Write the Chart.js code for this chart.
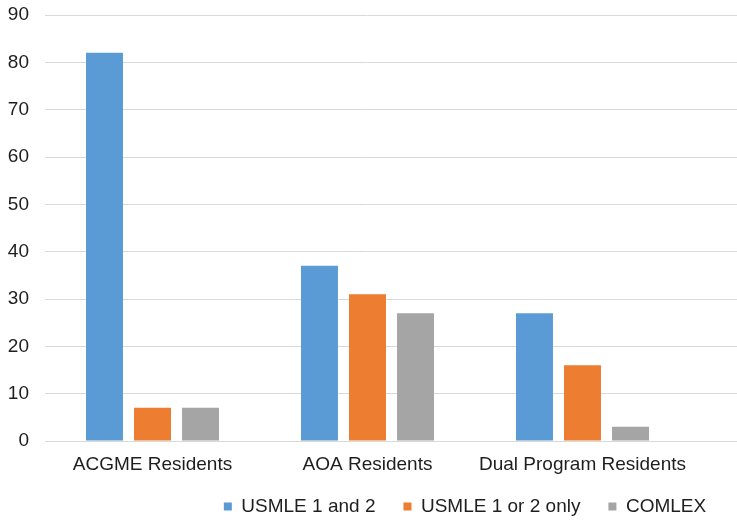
<!DOCTYPE html>
<html>
<head>
<meta charset="utf-8">
<script src="https://cdn.jsdelivr.net/npm/chart.js@4/dist/chart.umd.min.js"></script>
<style>
  html, body { margin: 0; padding: 0; background: #ffffff; }
  #wrap { width: 737px; height: 524px; position: relative; }
</style>
</head>
<body>
<div id="wrap"><canvas id="c" width="737" height="524"></canvas></div>
<script>
const categories = ["ACGME Residents", "AOA Residents", "Dual Program Residents"];
const seriesNames = ["USMLE 1 and 2", "USMLE 1 or 2 only", "COMLEX"];
const usmle12 = [82, 37, 27];
const usmle1or2 = [7, 31, 16];
const comlex = [7, 27, 3];
const yTicks = [0, 10, 20, 30, 40, 50, 60, 70, 80, 90];

const colors = ["#5B9BD5", "#ED7D31", "#A5A5A5"];
const gridColor = "#D9D9D9";
const textColor = "#1e1e1e";
const fontFamily = "'Liberation Sans', Arial, sans-serif";

// extend horizontal gridlines to the right edge of the canvas
const extendGrid = {
  id: 'extendGrid',
  beforeDatasetsDraw(chart) {
    const ctx = chart.ctx;
    const ys = chart.scales.y;
    ctx.save();
    ctx.strokeStyle = gridColor;
    ctx.lineWidth = 1;
    ys.ticks.forEach(t => {
      const p = ys.getPixelForValue(t.value);
      const y = Math.round(p - 0.5) + 0.5;
      ctx.beginPath();
      ctx.moveTo(chart.chartArea.right - 1, y);
      ctx.lineTo(chart.width, y);
      ctx.stroke();
    });
    ctx.restore();
  }
};

// move legend to where it sits in the reference
const shiftLegend = {
  id: 'shiftLegend',
  afterLayout(chart) {
    const dx = 120, dy = -16;
    const lg = chart.legend;
    if (lg) {
      lg.left += dx; lg.right += dx;
      lg.top += dy; lg.bottom += dy;
    }
  }
};

new Chart(document.getElementById('c'), {
  type: 'bar',
  data: {
    labels: categories,
    datasets: [
      { label: seriesNames[0], data: usmle12, backgroundColor: colors[0] },
      { label: seriesNames[1], data: usmle1or2, backgroundColor: colors[1] },
      { label: seriesNames[2], data: comlex, backgroundColor: colors[2] }
    ]
  },
  options: {
    responsive: false,
    animation: false,
    devicePixelRatio: 1,
    layout: { padding: { top: 15, right: 47, left: 0, bottom: -18 } },
    datasets: { bar: { categoryPercentage: 0.67, barPercentage: 0.77 } },
    scales: {
      x: {
        grid: { display: false, drawTicks: false },
        border: { display: true, color: gridColor, width: 1 },
        ticks: { color: textColor, font: { family: fontFamily, size: 19 }, padding: 12, maxRotation: 0, autoSkip: false },
        afterFit(scale) { scale.height = 44; scale.paddingLeft = 0; scale.paddingRight = 0; }
      },
      y: {
        min: 0,
        max: 90,
        afterBuildTicks(scale) { scale.ticks = yTicks.map(v => ({ value: v })); },
        grid: { color: gridColor, lineWidth: 1, drawTicks: false },
        border: { display: false },
        ticks: { color: textColor, font: { family: fontFamily, size: 19 }, padding: 16 },
        afterFit(scale) { scale.width = 45; scale.paddingTop = 0; scale.paddingBottom = 0; }
      }
    },
    plugins: {
      legend: {
        position: 'bottom',
        align: 'center',
        labels: {
          boxWidth: 8,
          boxHeight: 8,
          padding: 28,
          color: textColor,
          font: { family: fontFamily, size: 19 }
        }
      },
      tooltip: { enabled: false }
    }
  },
  plugins: [extendGrid, shiftLegend]
});
</script>
</body>
</html>
